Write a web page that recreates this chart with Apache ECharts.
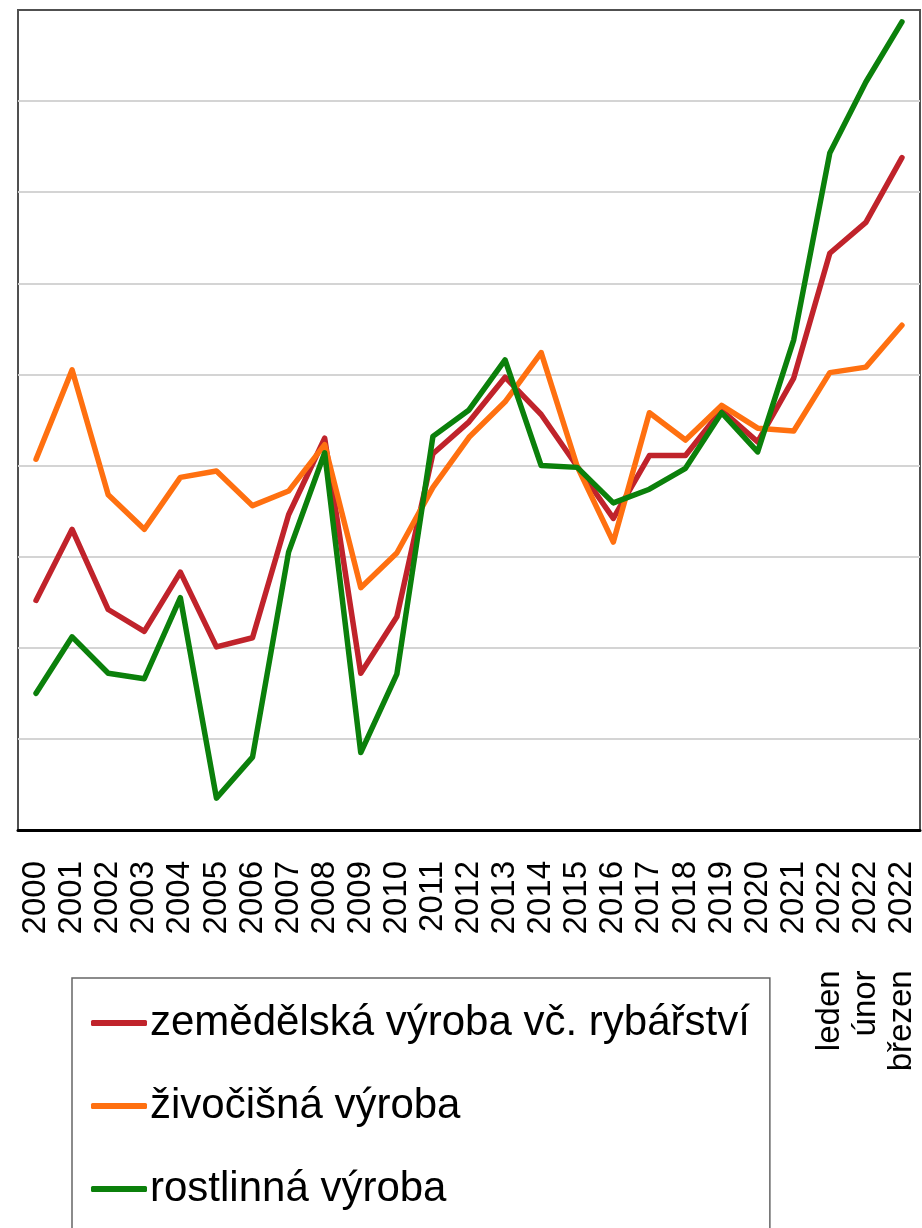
<!DOCTYPE html>
<html>
<head>
<meta charset="utf-8">
<script src="https://cdn.jsdelivr.net/npm/echarts@6/dist/echarts.min.js"></script>
<style>
html,body{margin:0;padding:0;background:#fff;}
#chart{width:922px;height:1228px;}
</style>
</head>
<body>
<div id="chart"></div>
<script>
var categories = ['2000','2001','2002','2003','2004','2005','2006','2007','2008','2009','2010',
  '2011','2012','2013','2014','2015','2016','2017','2018','2019','2020','2021',
  '2022 leden','2022 únor','2022 březen'];

var seriesNames = ['zemědělská výroba vč. rybářství', 'živočišná výroba', 'rostlinná výroba'];

var zemedelska = [85.2, 93.0, 84.2, 81.8, 88.3, 80.1, 81.1, 94.6, 103.0, 77.2, 83.4, 101.3, 104.8,
  109.7, 105.6, 99.9, 94.2, 101.1, 101.1, 106.1, 102.6, 109.6, 123.3, 126.7, 133.8];
var zivocisna = [100.7, 110.5, 96.8, 93.0, 98.7, 99.4, 95.6, 97.2, 102.3, 86.6, 90.4, 97.6, 103.1,
  107.0, 112.4, 99.9, 91.6, 105.8, 102.8, 106.6, 104.1, 103.8, 110.2, 110.8, 115.4];
var rostlinna = [75.0, 81.2, 77.2, 76.6, 85.5, 63.5, 68.0, 90.5, 101.4, 68.5, 77.1, 103.2, 106.1,
  111.6, 100.0, 99.8, 95.9, 97.4, 99.7, 105.8, 101.5, 113.8, 134.3, 142.1, 148.7];

var yMin = 60, yMax = 150, yStep = 10;
var colors = ['#C0232B', '#FF7010', '#0B800B'];
var FONT = "'Liberation Sans', Arial, sans-serif";

var chart = echarts.init(document.getElementById('chart'), null, {renderer: 'canvas'});

function mkSeries(name, data, color) {
  return {
    name: name, type: 'line', data: data, symbol: 'none', smooth: false,
    lineStyle: {color: color, width: 5.5, cap: 'round', join: 'round'},
    itemStyle: {color: color},
    emphasis: {disabled: true}
  };
}

chart.setOption({
  animation: false,
  backgroundColor: '#ffffff',
  grid: {
    left: 18, top: 10, width: 902, height: 820,
    show: true, borderColor: '#505050', borderWidth: 2, backgroundColor: 'transparent'
  },
  legend: {
    orient: 'vertical',
    left: 72, top: 978,
    height: 400,
    padding: [24, 20, 24, 19],
    backgroundColor: 'transparent',
    borderColor: '#666666', borderWidth: 1.5,
    itemWidth: 56, itemHeight: 6, itemGap: 41,
    icon: 'roundRect',
    selectedMode: false,
    textStyle: {fontFamily: FONT, fontSize: 42, color: '#000', lineHeight: 42, padding: [0, 0, 0, -2]},
    data: seriesNames
  },
  xAxis: {
    type: 'category',
    data: categories,
    boundaryGap: true,
    axisLine: {show: true, lineStyle: {color: '#000', width: 3}},
    axisTick: {show: false},
    splitLine: {show: false},
    axisLabel: {
      interval: 0, rotate: 90, margin: 31,
      fontFamily: FONT, fontSize: 33, color: '#000',
      formatter: function (v) {
        var parts = v.split(' ');
        if (parts.length > 1) {
          return '{m|' + parts[1] + '}{y|' + parts[0] + '}';
        }
        return '{y|' + v + '}';
      },
      rich: {
        m: {fontFamily: FONT, fontSize: 33, color: '#000', width: 100, align: 'right', padding: [0, 36, 0, 0]},
        y: {fontFamily: FONT, fontSize: 33, color: '#000'}
      }
    }
  },
  yAxis: {
    type: 'value', min: yMin, max: yMax, interval: yStep,
    axisLine: {show: false}, axisTick: {show: false},
    axisLabel: {show: false},
    splitLine: {show: true, showMinLine: false, showMaxLine: false, lineStyle: {color: '#D4D4D4', width: 2}}
  },
  series: [
    mkSeries(seriesNames[0], zemedelska, colors[0]),
    mkSeries(seriesNames[1], zivocisna, colors[1]),
    mkSeries(seriesNames[2], rostlinna, colors[2])
  ]
});
</script>
</body>
</html>
